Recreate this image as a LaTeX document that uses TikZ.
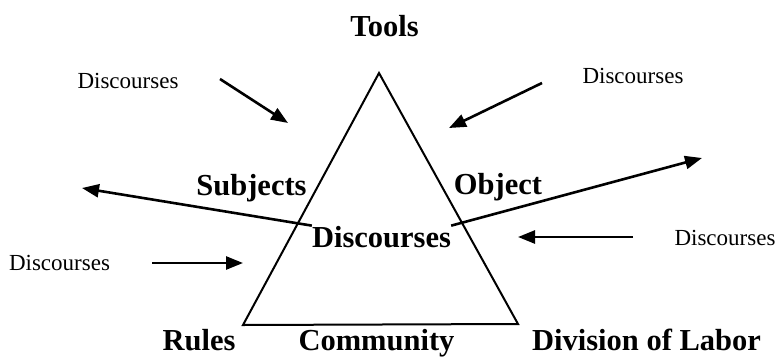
\documentclass[tikz,border=0pt]{standalone}
\usepackage{fontspec}
\setmainfont{Liberation Serif}
\usetikzlibrary{arrows.meta}
\begin{document}
\begin{tikzpicture}[x=1pt,y=-1pt,
  big/.style={font=\fontsize{30.5}{31}\selectfont\bfseries, inner sep=0pt, anchor=base},
  small/.style={font=\fontsize{23}{24}\selectfont, inner sep=0pt, anchor=base},
  side/.style={line width=2pt, line join=miter},
  flow/.style={line width=2.6pt, -{Triangle[length=17pt,width=13pt]}}]
\useasboundingbox (0,0) rectangle (778,359);

% activity triangle
\coordinate (apex) at (379,73);
\coordinate (bl) at (243,325);
\coordinate (br) at (518,324);
\draw[side] (apex) -- (bl) -- (br) -- cycle;

% corner and side labels
\node[big] (tools) at (384.5,36) {Tools};
\node[big] (subj) at (251.5,195) {Subjects};
\node[big] (obj) at (498,194) {Object};
\node[big] (disc) at (381.5,247) {Discourses};
\node[big] (rules) at (199,350) {Rules};
\node[big] (comm) at (376.5,350) {Community};
\node[big] (div) at (646.5,350) {Division of Labor};

% outer discourse labels
\node[small] (dtl) at (128,88) {Discourses};
\node[small] (dtr) at (633,83) {Discourses};
\node[small] (dl) at (59.5,270) {Discourses};
\node[small] (dr) at (725,245) {Discourses};

% arrow end points
\coordinate (tlA) at (220,79);  \coordinate (tlB) at (288,123);
\coordinate (trA) at (542,83);  \coordinate (trB) at (449,128);
\coordinate (lA) at (152,263);  \coordinate (lB) at (243,263);
\coordinate (rA) at (633,237);  \coordinate (rB) at (518,237);
\coordinate (outL) at (82,188);
\coordinate (outR) at (702,158);

% discourses flowing in
\draw[flow] (tlA) -- (tlB);
\draw[flow] (trA) -- (trB);
\draw[flow] (lA) -- (lB);
\draw[flow] (rA) -- (rB);

% discourses flowing out of the centre
\draw[flow] (disc.north west) -- (outL);
\draw[flow] (disc.north east) -- (outR);
\end{tikzpicture}
\end{document}
